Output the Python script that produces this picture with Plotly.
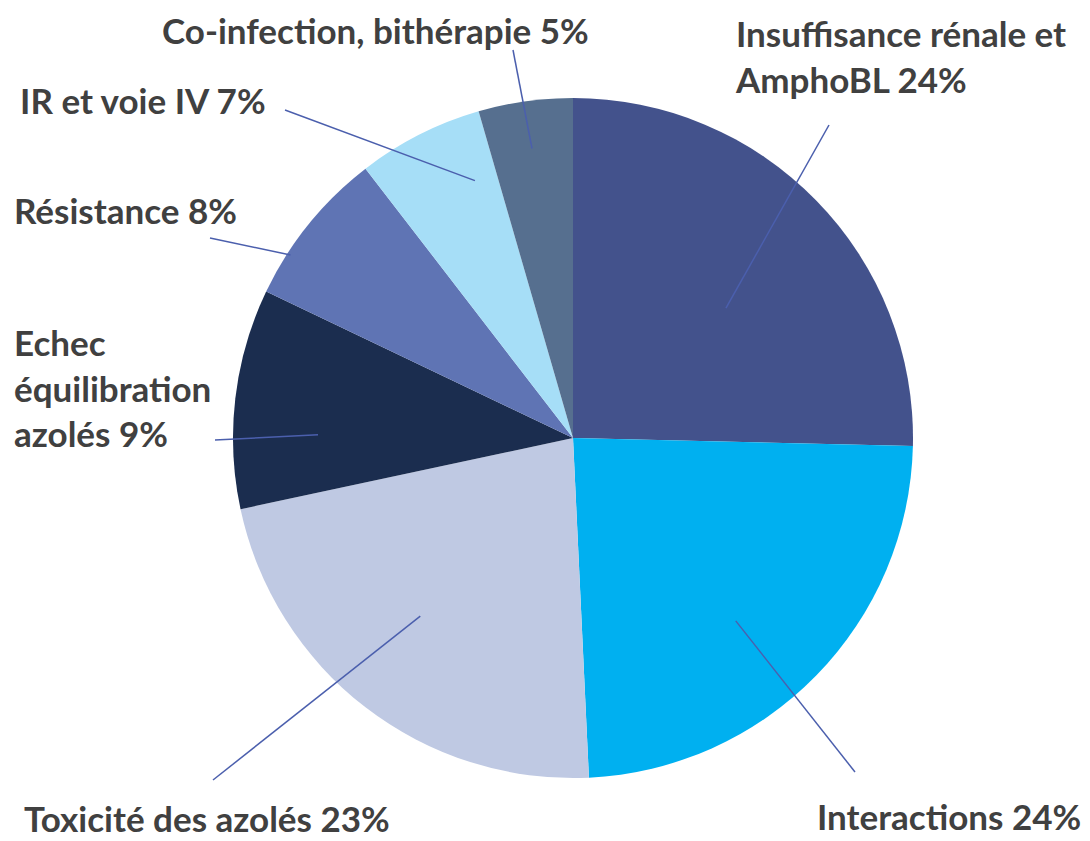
import math
import plotly.graph_objects as go

# chart data
categories = ["Insuffisance rénale et AmphoBL", "Interactions", "Toxicité des azolés",
              "Echec équilibration azolés", "Résistance", "IR et voie IV",
              "Co-infection, bithérapie"]
counts = [17, 16, 15, 7, 5, 4, 3]
pct_labels = ["24%", "24%", "23%", "9%", "8%", "7%", "5%"]
colors = ["#43528C", "#00B0F0", "#BFC9E3", "#1B2D4F", "#5F74B4", "#A6DEF7", "#566F8F"]

# page body adds an 8px margin, so the figure is drawn 8px smaller and shifted
OFF = 8
W, H = 1090 - OFF, 841 - OFF
CX, CY, R = 573, 438, 340  # pie centre / radius in window pixels

# label text (with line breaks), label position (px), leader line: outer end (px),
# tip angle offset from slice middle (deg) and tip radius fraction
label_text = ["Insuffisance rénale et<br>AmphoBL " + pct_labels[0],
              "Interactions " + pct_labels[1],
              "Toxicité des azolés " + pct_labels[2],
              "Echec<br>équilibration<br>azolés " + pct_labels[3],
              "Résistance " + pct_labels[4],
              "IR et voie IV " + pct_labels[5],
              "Co-infection, bithérapie " + pct_labels[6]]
label_pos = [(733, 56), (815, 816), (22, 818), (12, 387), (12, 210), (18, 100), (160, 30)]
line_end = [(829, 125), (855, 772), (213, 780), (215, 440), (210, 238), (285, 110), (513, 50)]
tip_offset = [4, 4, 3, -6, -6, 6, 0]
tip_rfrac = [0.59, 0.72, 0.69, 0.75, 0.99, 0.81, 0.86]


def px(x, y):
    return (x - OFF) / W, 1 - (y - OFF) / H


fig = go.Figure()
fig.add_trace(go.Pie(labels=categories, values=counts, sort=False, direction='clockwise',
                     rotation=0, textinfo='none', hoverinfo='label+percent',
                     marker=dict(colors=colors, line=dict(width=0)),
                     domain=dict(x=[(CX - R - OFF) / W, (CX + R - OFF) / W],
                                 y=[1 - (CY + R - OFF) / H, 1 - (CY - R - OFF) / H]),
                     showlegend=False))

total = sum(counts)
cum = 0
shapes = []
annotations = []
for i, v in enumerate(counts):
    mid = (cum + v / 2) / total * 360 + tip_offset[i]
    cum += v
    r = R * tip_rfrac[i]
    tx = CX + r * math.sin(math.radians(mid))
    ty = CY - r * math.cos(math.radians(mid))
    x0, y0 = px(*line_end[i])
    x1, y1 = px(tx, ty)
    shapes.append(dict(type='line', xref='paper', yref='paper', x0=x0, y0=y0, x1=x1, y1=y1,
                       line=dict(color='#4B5FAD', width=1.5)))
    lx, ly = px(*label_pos[i])
    annotations.append(dict(text=label_text[i], x=lx, y=ly, xref='paper', yref='paper',
                            xanchor='left', yanchor='middle', align='left', showarrow=False,
                            font=dict(family='Lato', size=35, color='#404040', weight='bold')))

fig.update_layout(width=W, height=H, margin=dict(l=0, r=0, t=0, b=0),
                  paper_bgcolor='white', plot_bgcolor='white',
                  shapes=shapes, annotations=annotations)

fig.write_html("out.html")
